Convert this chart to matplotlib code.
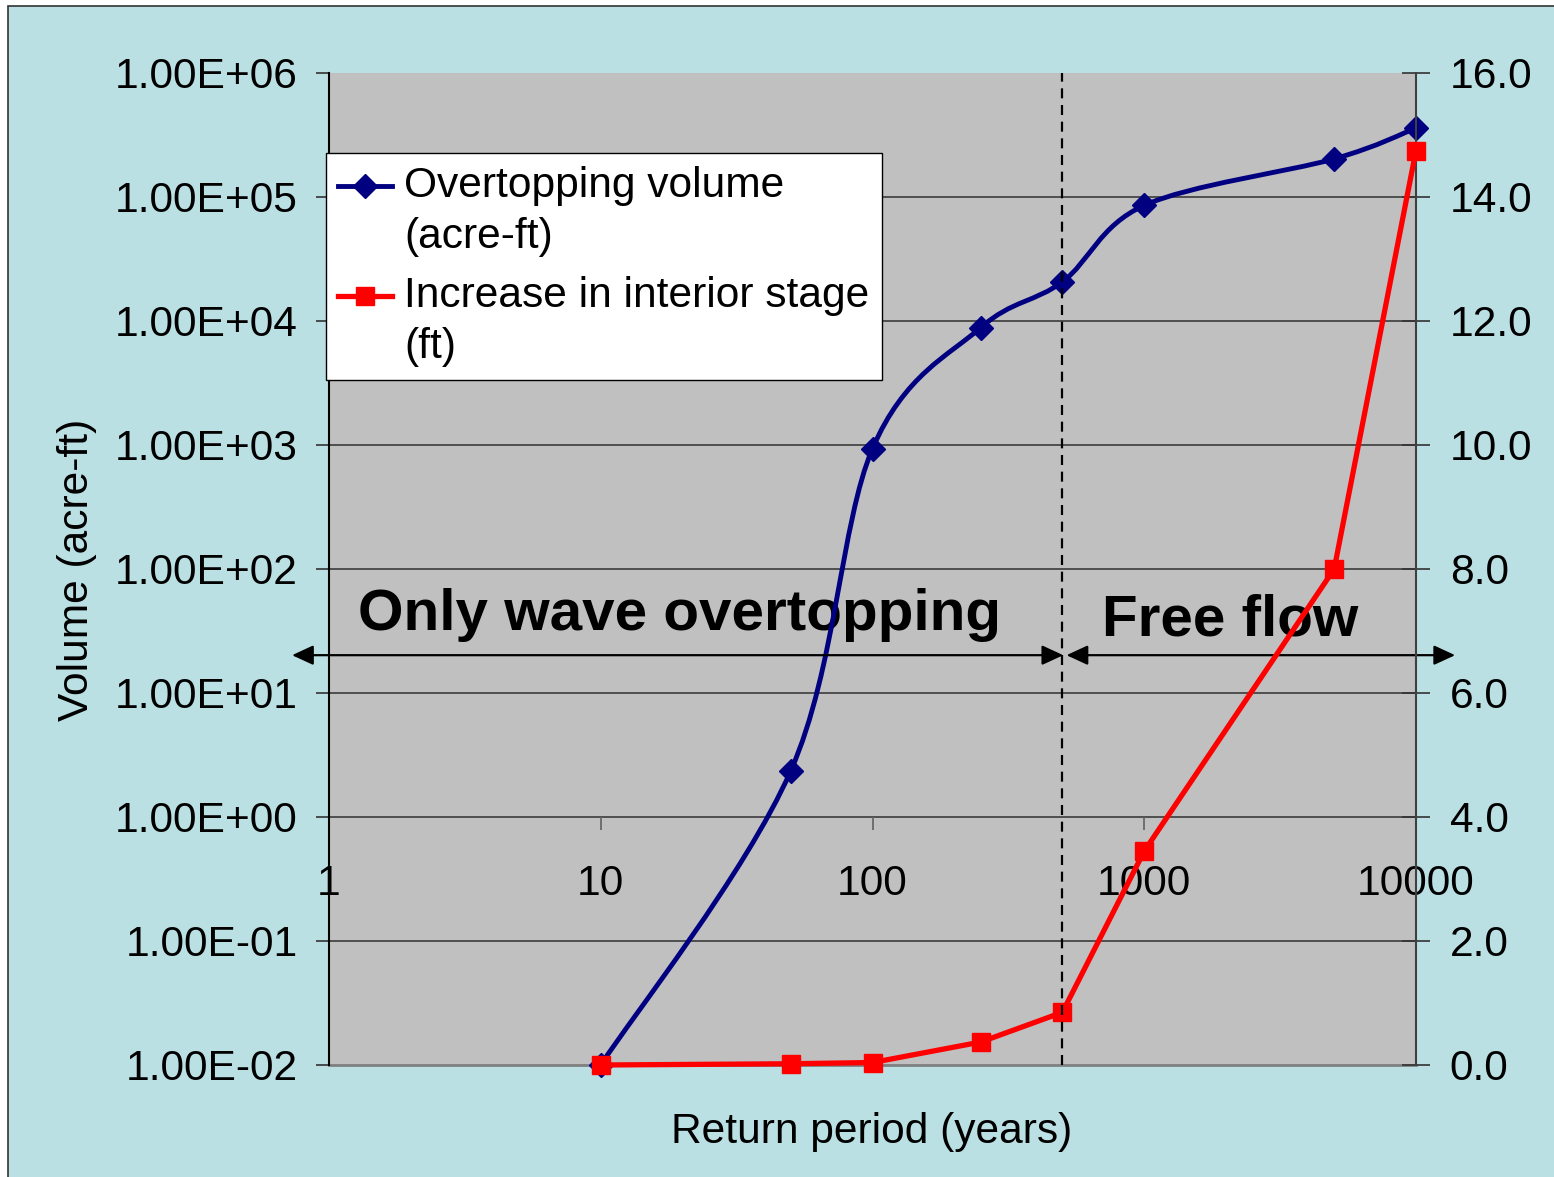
import numpy as np
import matplotlib
matplotlib.use("Agg")
import matplotlib.pyplot as plt
from matplotlib.path import Path
from matplotlib.patches import PathPatch, Rectangle
from matplotlib.lines import Line2D
from matplotlib.legend_handler import HandlerLine2D
from matplotlib.ticker import FuncFormatter, FixedLocator, NullLocator

plt.rcParams['font.family'] = ['Liberation Sans', 'DejaVu Sans']

# ---------------- data ----------------
return_period = [10, 50, 100, 250, 500, 1000, 5000, 10000]
overtop_volume = [0.01, 2.35, 935, 8830, 20700, 85600, 203000, 360000]   # acre-ft
stage_increase = [0.0, 0.02, 0.04, 0.37, 0.85, 3.45, 8.0, 14.75]         # ft

x_ticks = [1, 10, 100, 1000, 10000]
x_tick_labels = ['1', '10', '100', '1000', '10000']
vol_ticks = [1e-2, 1e-1, 1e0, 1e1, 1e2, 1e3, 1e4, 1e5, 1e6]
stage_ticks = [0, 2, 4, 6, 8, 10, 12, 14, 16]
regime_boundary = 500
label_volume = 'Overtopping volume\n(acre-ft)'
label_stage = 'Increase in interior stage\n(ft)'
region_left = 'Only wave overtopping'
region_right = 'Free flow'

BLUE = '#000080'
RED = '#ff0000'
BG = '#bbe0e3'
PLOT_BG = '#c0c0c0'
FS = 30.6

W, H = 1554, 1177
fig = plt.figure(figsize=(W / 100, H / 100), dpi=100)
fig.patch.set_facecolor('white')
fig.patches.append(Rectangle((8 / W, -0.05), 1.2, 1.05 - 6 / H, transform=fig.transFigure,
                             facecolor=BG, edgecolor='#333333', lw=1.2, zorder=-10))

ax = fig.add_axes([329 / W, 1 - 1065 / H, (1416 - 329) / W, (1065 - 73) / H])
ax.set_facecolor(PLOT_BG)
ax.set_xscale('log')
ax.set_yscale('log')
ax.set_xlim(1, 10000)
ax.set_ylim(1e-2, 1e6)

ax2 = ax.twinx()
ax2.set_ylim(0, 16)

# ---- spines ----
for s in ['top', 'right']:
    ax.spines[s].set_visible(False)
ax.spines['left'].set_color('black')
ax.spines['left'].set_linewidth(1.5)
ax.spines['bottom'].set_position(('data', 1))
ax.spines['bottom'].set_color('none')
for s in ['top', 'left', 'bottom']:
    ax2.spines[s].set_visible(False)
ax2.spines['right'].set_color('#404040')
ax2.spines['right'].set_linewidth(1.5)

# ---- ticks ----
ax.xaxis.set_major_locator(FixedLocator(x_ticks))
ax.xaxis.set_minor_locator(NullLocator())
ax.set_xticklabels(x_tick_labels)
ax.tick_params(axis='x', direction='out', length=9.5, width=1.2, color='#606060',
               pad=24, labelsize=FS)
ax.yaxis.set_major_locator(FixedLocator(vol_ticks))
ax.yaxis.set_minor_locator(NullLocator())
ax.yaxis.set_major_formatter(FuncFormatter(lambda v, p: f"{v:.2E}"))
ax.tick_params(axis='y', direction='out', length=9.5, width=1.2, color='#333333',
               pad=13, labelsize=FS)
ax2.yaxis.set_major_locator(FixedLocator(stage_ticks))
ax2.yaxis.set_major_formatter(FuncFormatter(lambda v, p: f"{v:.1f}"))
ax2.tick_params(axis='y', direction='inout', length=19.5, width=1.2, color='#333333',
                pad=14.5, labelsize=FS)

# ---- gridlines ----
for t in vol_ticks[1:-1]:
    ax.axhline(t, color='#303030', lw=1.1, zorder=0.5)
ax.axhline(vol_ticks[0], color='#808080', lw=2, zorder=0.5, clip_on=False)

# ---- region annotations (below data lines) ----
ax.text(0.322, 0.4385, region_left, transform=ax.transAxes, ha='center', va='baseline',
        fontsize=42, fontweight='bold', zorder=1)
ax.text(0.829, 0.4325, region_right, transform=ax.transAxes, ha='center', va='baseline',
        fontsize=42, fontweight='bold', zorder=1)
arrow_y = 6.61
ap = dict(arrowstyle='<|-|>,head_length=0.65,head_width=0.3', mutation_scale=20,
          lw=1.6, color='black', shrinkA=0, shrinkB=0)
ax2.annotate('', xy=(-0.034, arrow_y), xycoords=('axes fraction', 'data'),
             xytext=(0.6755, arrow_y), textcoords=('axes fraction', 'data'),
             arrowprops=ap, annotation_clip=False, zorder=1)
ax2.annotate('', xy=(0.6785, arrow_y), xycoords=('axes fraction', 'data'),
             xytext=(1.036, arrow_y), textcoords=('axes fraction', 'data'),
             arrowprops=ap, annotation_clip=False, zorder=1)

# ---- blue smoothed series (Bezier through the points, Excel-style) ----
lx = np.log10(return_period)
ly = np.log10(overtop_volume)
n = len(lx)
verts = [(return_period[0], overtop_volume[0])]
codes = [Path.MOVETO]
for i in range(n - 1):
    p0 = np.array([lx[max(i - 1, 0)], ly[max(i - 1, 0)]])
    p1 = np.array([lx[i], ly[i]])
    p2 = np.array([lx[i + 1], ly[i + 1]])
    p3 = np.array([lx[min(i + 2, n - 1)], ly[min(i + 2, n - 1)]])
    c1 = p1 + (p2 - p0) / 6.0
    c2 = p2 - (p3 - p1) / 6.0
    for c in (c1, c2, p2):
        verts.append((10 ** c[0], 10 ** c[1]))
    codes += [Path.CURVE4] * 3
ax.add_patch(PathPatch(Path(verts, codes), facecolor='none', edgecolor=BLUE, lw=3.5,
                       capstyle='round', joinstyle='round', zorder=3))
ax.plot(return_period, overtop_volume, linestyle='none', marker='D', markersize=12,
        color=BLUE, zorder=4, clip_on=False)

# ---- red series ----
ax2.plot(return_period, stage_increase, color=RED, lw=3.8, marker='s', markersize=13,
         zorder=3, clip_on=False)

# dashed regime boundary (drawn on top)
ax2.axvline(regime_boundary, color='black', lw=1.6, linestyle=(0, (4.5, 3)), zorder=6)

# ---- legend ----
class ShiftedHandler(HandlerLine2D):
    def __init__(self, shift=0, **kw):
        super().__init__(**kw)
        self.shift = shift

    def create_artists(self, legend, orig_handle, xdescent, ydescent, width, height,
                       fontsize, trans):
        arts = super().create_artists(legend, orig_handle, xdescent, ydescent, width,
                                      height, fontsize, trans)
        for a in arts:
            a.set_ydata(np.asarray(a.get_ydata()) + self.shift)
        return arts

h_blue = Line2D([], [], color=BLUE, lw=3.5, marker='D', markersize=12)
h_red = Line2D([], [], color=RED, lw=3.8, marker='s', markersize=13)
leg = ax2.legend([h_blue, h_red], [label_volume, label_stage], loc='upper left',
                 bbox_to_anchor=(-0.003, 0.919), fontsize=FS, frameon=True,
                 fancybox=False, shadow=False, framealpha=1, edgecolor='black',
                 handlelength=1.25, handletextpad=0.29, borderpad=0.3,
                 labelspacing=0.45, borderaxespad=0, numpoints=1,
                 handler_map={h_blue: ShiftedHandler(shift=18.6),
                              h_red: ShiftedHandler(shift=18.6)})
leg.get_frame().set_linewidth(1.0)
leg.set_zorder(10)
for t in leg.get_texts():
    t.set_linespacing(1.35)

# ---- axis labels ----
fig.text(872 / W, 1 - 1132 / H, 'Return period (years)', ha='center', va='center',
         fontsize=FS)
fig.text(77 / W, 1 - 570 / H, 'Volume (acre-ft)', ha='center', va='center',
         rotation=90, fontsize=FS)

fig.savefig('out.png', dpi=100)
